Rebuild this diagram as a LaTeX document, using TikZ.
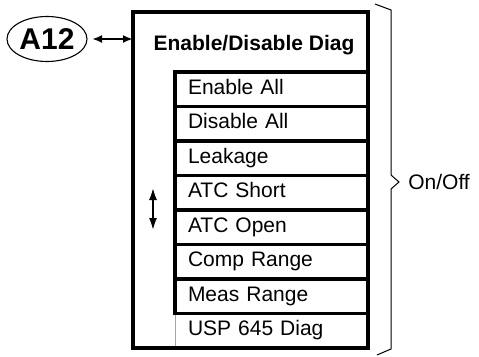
\documentclass[tikz,border=0pt]{standalone}
\usepackage{fontspec}
\setmainfont{Liberation Sans}
\usetikzlibrary{shapes.geometric,arrows.meta}
\begin{document}
\begin{tikzpicture}[x=1pt,y=-1pt,
  every node/.style={font=\fontsize{21}{25}\selectfont, outer sep=0pt},
  rowbox/.style={draw, line width=3.4pt, minimum width=193pt, minimum height=34.5pt,
    text width=167pt, inner xsep=13pt, inner ysep=0pt, align=left,
    text height=15pt, text depth=5pt, anchor=north west},
  lastrow/.style={rowbox, draw=gray!70, line width=0.9pt},
  outerbox/.style={draw, line width=3.6pt, minimum width=235pt, minimum height=336pt,
    inner sep=0pt, anchor=north west},
  tagshape/.style={ellipse, draw, line width=1.1pt, minimum width=80pt, minimum height=45pt,
    inner sep=0pt, font=\bfseries\fontsize{30}{32}\selectfont},
  dblh/.style={{Latex[length=10pt,width=8pt]}-{Latex[length=10pt,width=8pt]}, line width=2.2pt},
  dblv/.style={{Latex[length=13pt,width=8pt]}-{Latex[length=13pt,width=8pt]}, line width=2.8pt},
  bracelinestyle/.style={line width=1pt}
]
\useasboundingbox (0,0) rectangle (479,356);
% last row first (thin left edge)
\node[lastrow] (r8) at (175,313.5) {USP 645 Diag};
\node[rowbox] (r1) at (175,72) {Enable All};
\node[rowbox] (r2) at (175,106.5) {Disable All};
\node[rowbox] (r3) at (175,141) {Leakage};
\node[rowbox] (r4) at (175,175.5) {ATC Short};
\node[rowbox] (r5) at (175,210) {ATC Open};
\node[rowbox] (r6) at (175,244.5) {Comp Range};
\node[rowbox] (r7) at (175,279) {Meas Range};
% outer frame
\node[outerbox] (outer) at (133,12) {};
\node[font=\bfseries\fontsize{21}{25}\selectfont, anchor=base] (title) at (254,50) {Enable/Disable Diag};
% tag
\node[tagshape] (a12) at (47,39) {A12};
\draw[dblh] ([xshift=5pt]a12.east) -- (a12.east -| outer.west);
% vertical scroll arrow
\coordinate (va1) at (153,187);
\coordinate (va2) at (153,231);
\draw[dblv] (va1) -- (va2);
% brace
\draw[bracelinestyle] (375,4) -- (391,10) -- (391,175) -- (399,182) -- (391,189) -- (391,349) -- (377,355);
\node[anchor=west] (onoff) at (405,182) {On/Off};
\end{tikzpicture}
\end{document}
